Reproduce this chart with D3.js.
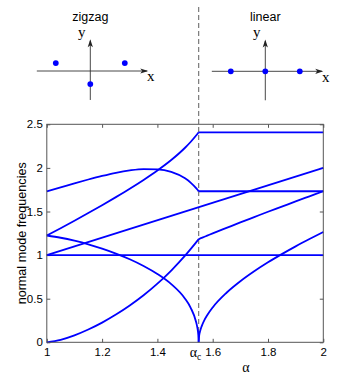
<!DOCTYPE html>
<html>
<head>
<meta charset="utf-8">
<script src="https://cdn.jsdelivr.net/npm/d3@7"></script>
<style>
  body { margin: 0; background: #fff; }
</style>
</head>
<body>
<div class="chart"></div>
<script>
// critical point between the zigzag and the linear configuration
var alphaC = 1.5492;

// zigzag phase (alpha < alphaC)
var alphaZig  = [1.00, 1.05, 1.10, 1.15, 1.20, 1.25, 1.30, 1.35, 1.40, 1.45, 1.50, 1.52, 1.54, 1.545, 1.548, 1.5492];
var zigBreath = [1.732, 1.777, 1.823, 1.867, 1.908, 1.944, 1.971, 1.986, 1.983, 1.954, 1.880, 1.832, 1.768, 1.749, 1.737, 1.732];
var zigSoft   = [1.225, 1.199, 1.165, 1.124, 1.074, 1.017, 0.952, 0.875, 0.783, 0.667, 0.500, 0.398, 0.233, 0.159, 0.085, 0];
var zigStretch = [1.225, 1.308, 1.394, 1.482, 1.572, 1.665, 1.761, 1.862, 1.970, 2.090, 2.231, 2.297, 2.371, 2.391, 2.403, 2.408];
var zigTilt   = [0, 0.029, 0.080, 0.147, 0.226, 0.318, 0.422, 0.539, 0.672, 0.823, 0.993, 1.068, 1.146, 1.166, 1.178, 1.183];

// linear phase (alpha > alphaC)
var alphaLin = [1.5492, 1.551, 1.555, 1.56, 1.57, 1.58, 1.60, 1.65, 1.70, 1.75, 1.80, 1.85, 1.90, 1.95, 2.00];
var linZigzag = [0, 0.075, 0.134, 0.183, 0.255, 0.310, 0.400, 0.568, 0.700, 0.814, 0.917, 1.011, 1.100, 1.184, 1.265];
var linTilt   = [1.183, 1.186, 1.191, 1.197, 1.210, 1.223, 1.249, 1.312, 1.375, 1.436, 1.497, 1.556, 1.616, 1.674, 1.732];
var alphaLinEnds = [alphaC, 2];
var linBreath  = [1.732, 1.732];
var linStretch = [2.408, 2.408];

// centre of mass modes, whole range
var alphaFull = [1, 2];
var comAxial  = [1, 1];
var comTrans  = [1, 2];

// tick labels
var xTicks = [1, 1.2, 1.4, 1.6, 1.8, 2];
var yTicks = [0, 0.5, 1, 1.5, 2, 2.5];

// ion positions for the two sketches (outer ion at x = +-1)
var zigzagIonX = [-1, 1, 0];
var zigzagIonY = [0.23, 0.23, -0.38];
var linearIonX = [-1, 0, 1];
var linearIonY = [0, 0, 0];

var svgWidth = 357;
var svgHeight = 376;

var margin = {
  top: 124.3,
  right: 33.7,
  bottom: 33.7,
  left: 46.8
};

var width = svgWidth - margin.left - margin.right;
var height = svgHeight - margin.top - margin.bottom;

var svg = d3
  .select(".chart")
  .append("svg")
  .attr("width", svgWidth)
  .attr("height", svgHeight);

var xLinearScale = d3.scaleLinear().domain([1, 2]).range([0, width]);
var yLinearScale = d3.scaleLinear().domain([0, 2.5]).range([height, 0]);

// dashed line at alpha_c, running through the sketches too
var xc = margin.left + xLinearScale(alphaC);
svg.append("line")
  .attr("x1", xc).attr("x2", xc)
  .attr("y1", 7).attr("y2", margin.top + height)
  .attr("stroke", "#7a7a7a")
  .attr("stroke-width", 1.2)
  .attr("stroke-dasharray", "5,3");

// ---- sketches on top
function drawSketch(cx, cy, ionX, ionY, title) {
  var unit = 34.5;
  var sx = d3.scaleLinear().domain([0, 1]).range([cx, cx + unit]);
  var sy = d3.scaleLinear().domain([0, 1]).range([cy, cy - unit]);
  var g = svg.append("g");

  g.append("line")
    .attr("x1", sx(-1.55)).attr("x2", sx(1.64))
    .attr("y1", sy(0)).attr("y2", sy(0))
    .attr("stroke", "#333").attr("stroke-width", 0.9);
  g.append("line")
    .attr("x1", sx(0)).attr("x2", sx(0))
    .attr("y1", sy(-0.84)).attr("y2", sy(0.88))
    .attr("stroke", "#333").attr("stroke-width", 0.9);

  // arrow heads
  var tx = sx(1.68), ty = sy(0);
  g.append("path")
    .attr("d", `M${tx},${ty} L${tx - 8},${ty - 2.6} L${tx - 6},${ty} L${tx - 8},${ty + 2.6} Z`)
    .attr("fill", "#222");
  var ux = sx(0), uy = sy(0.92);
  g.append("path")
    .attr("d", `M${ux},${uy} L${ux - 2.6},${uy + 8} L${ux},${uy + 6} L${ux + 2.6},${uy + 8} Z`)
    .attr("fill", "#222");

  g.append("text")
    .attr("x", sx(-0.25)).attr("y", sy(0.98))
    .attr("text-anchor", "middle")
    .style("font-family", "'Liberation Serif', 'DejaVu Serif', serif")
    .style("font-size", "15px")
    .text("y");
  g.append("text")
    .attr("x", sx(1.75)).attr("y", sy(-0.3))
    .attr("text-anchor", "middle")
    .style("font-family", "'Liberation Serif', 'DejaVu Serif', serif")
    .style("font-size", "15px")
    .text("x");

  g.selectAll("circle")
    .data(ionX)
    .enter()
    .append("circle")
    .attr("cx", d => sx(d))
    .attr("cy", (d, i) => sy(ionY[i]))
    .attr("r", 2.9)
    .attr("fill", "#0000ff");

  g.append("text")
    .attr("x", cx).attr("y", 21)
    .attr("text-anchor", "middle")
    .style("font-family", "'Liberation Sans', Arial, sans-serif")
    .style("font-size", "12.5px")
    .text(title);
}

drawSketch(90.3, 71, zigzagIonX, zigzagIonY, "zigzag");
drawSketch(265.3, 71.3, linearIonX, linearIonY, "linear");

// ---- main chart
var chartGroup = svg.append("g")
  .attr("transform", `translate(${margin.left}, ${margin.top})`);

var tickFont = "'Liberation Sans', Arial, sans-serif";

var bottomAxis = d3.axisBottom(xLinearScale).tickValues(xTicks)
  .tickFormat(d3.format("~g")).tickSize(-3.5).tickPadding(6);
var leftAxis = d3.axisLeft(yLinearScale).tickValues(yTicks)
  .tickFormat(d3.format("~g")).tickSize(-3.5).tickPadding(4);
var topAxis = d3.axisTop(xLinearScale).tickValues(xTicks)
  .tickFormat("").tickSize(-3.5);
var rightAxis = d3.axisRight(yLinearScale).tickValues(yTicks)
  .tickFormat("").tickSize(-3.5);

var axes = [
  chartGroup.append("g").attr("transform", `translate(0, ${height})`).call(bottomAxis),
  chartGroup.append("g").call(leftAxis),
  chartGroup.append("g").call(topAxis),
  chartGroup.append("g").attr("transform", `translate(${width}, 0)`).call(rightAxis)
];
axes.forEach(function(ax) {
  ax.select(".domain").remove();
  ax.selectAll(".tick line").attr("stroke", "#555");
  ax.selectAll("text")
    .attr("fill", "#000")
    .style("font-family", tickFont)
    .style("font-size", "11.5px");
});

// curves
var line = d3.line()
  .x(d => xLinearScale(d[0]))
  .y(d => yLinearScale(d[1]))
  .curve(d3.curveMonotoneX);

function drawCurve(xs, ys) {
  chartGroup.append("path")
    .datum(xs.map((a, i) => [a, ys[i]]))
    .attr("d", line)
    .attr("fill", "none")
    .attr("stroke", "#0000ff")
    .attr("stroke-width", 1.8)
    .attr("stroke-linejoin", "round");
}

drawCurve(alphaFull, comAxial);
drawCurve(alphaFull, comTrans);
drawCurve(alphaZig, zigBreath);
drawCurve(alphaZig, zigSoft);
drawCurve(alphaZig, zigStretch);
drawCurve(alphaZig, zigTilt);
drawCurve(alphaLin, linZigzag);
drawCurve(alphaLin, linTilt);
drawCurve(alphaLinEnds, linBreath);
drawCurve(alphaLinEnds, linStretch);

// frame
chartGroup.append("rect")
  .attr("width", width)
  .attr("height", height)
  .attr("fill", "none")
  .attr("stroke", "#555")
  .attr("stroke-width", 1);

// alpha_c label on the x axis
var acLabel = chartGroup.append("text")
  .attr("x", xLinearScale(alphaC) - 9)
  .attr("y", height + 14.5)
  .style("font-family", "'Liberation Serif', 'DejaVu Serif', serif")
  .style("font-size", "14px");
acLabel.append("tspan").text("α");
acLabel.append("tspan").attr("dy", 3).style("font-size", "9.5px").text("c");

// axis labels
chartGroup.append("text")
  .attr("x", xLinearScale(1.72))
  .attr("y", height + 30)
  .attr("text-anchor", "middle")
  .style("font-family", "'Liberation Serif', 'DejaVu Serif', serif")
  .style("font-size", "14px")
  .text("α");

chartGroup.append("text")
  .attr("transform", "rotate(-90)")
  .attr("x", 0 - (height / 2))
  .attr("y", 26 - margin.left)
  .attr("text-anchor", "middle")
  .style("font-family", tickFont)
  .style("font-size", "12.6px")
  .text("normal mode frequencies");
</script>
</body>
</html>
